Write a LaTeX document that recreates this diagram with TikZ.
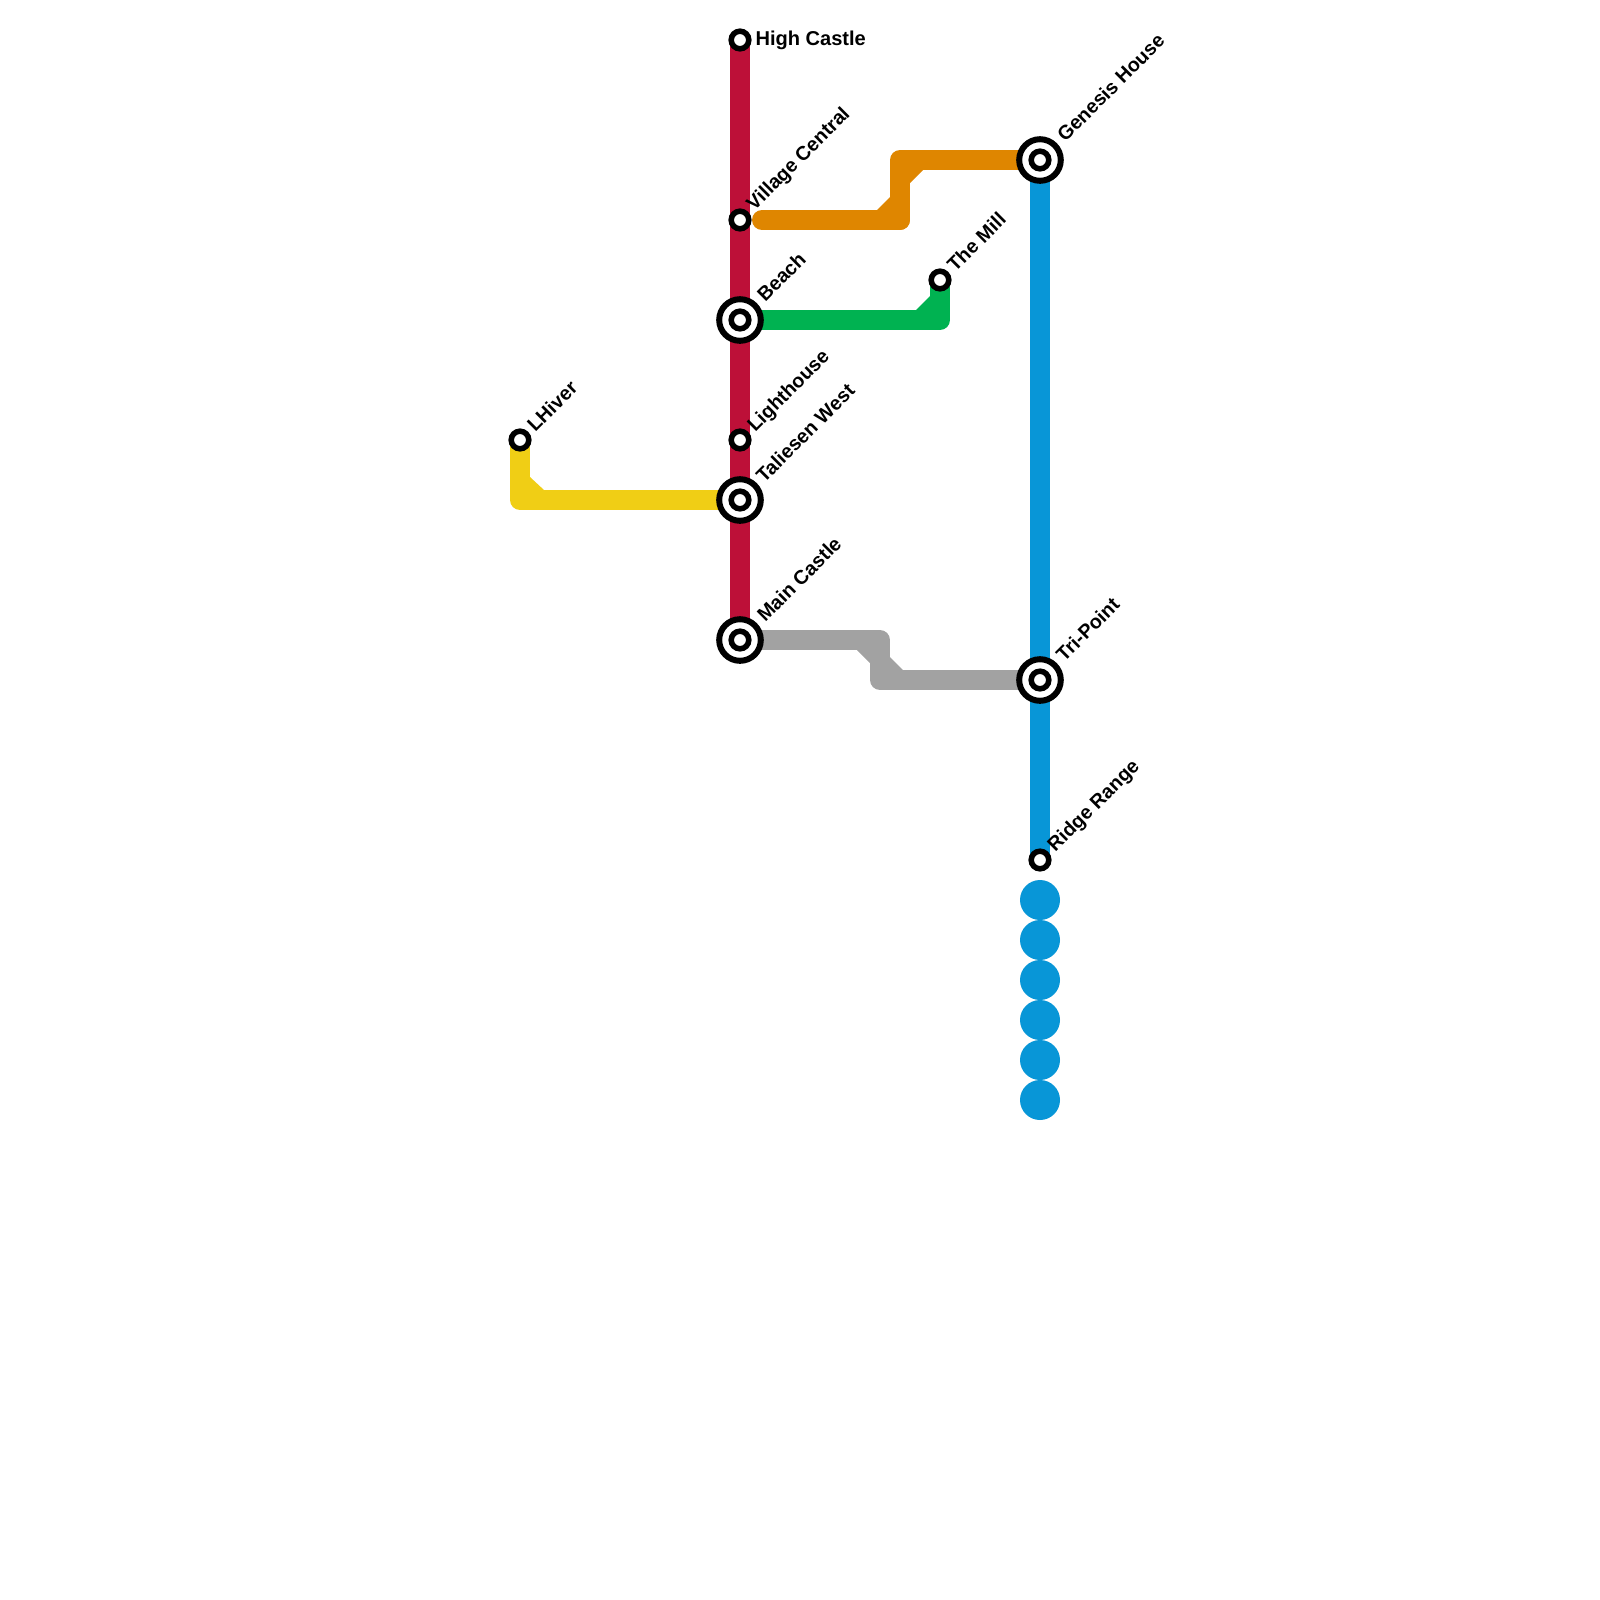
\documentclass[tikz,border=0pt]{standalone}
\usepackage{fontspec}
\setmainfont{Liberation Sans}
\usetikzlibrary{backgrounds}
\definecolor{lineRed}{HTML}{BD1038}
\definecolor{lineOrange}{HTML}{DF8600}
\definecolor{lineGreen}{HTML}{00B251}
\definecolor{lineYellow}{HTML}{F0CE15}
\definecolor{lineBlue}{HTML}{0896D7}
\definecolor{lineGray}{HTML}{A2A2A2}
\tikzset{
  stn/.style={circle,draw=black,fill=white,line width=0.69mm,minimum size=2.2mm,inner sep=0pt},
  bigstn/.style={circle,draw=black,fill=white,line width=0.75mm,minimum size=5.2mm,inner sep=0pt},
  metro/.style={line width=2.5mm,line join=round},
  lbl/.style={font=\fontsize{7.0pt}{8pt}\selectfont\bfseries,inner sep=0pt,anchor=base west},
  tilted/.style={lbl,rotate=45},
  tail/.style={circle,fill=lineBlue,minimum size=5mm,inner sep=0pt},
}
\begin{document}
\begin{tikzpicture}[x=0.125mm,y=-0.125mm]
\useasboundingbox (0,0) rectangle (1600,1600);
% big rings first, the small stations sit on them
\node[bigstn] (beachRing) at (740,320) {};
\node[bigstn] (taliesenRing) at (740,500) {};
\node[bigstn] (mainRing) at (740,640) {};
\node[bigstn] (genesisRing) at (1040,160) {};
\node[bigstn] (triRing) at (1040,680) {};
\node[stn] (high) at (740,40) {};
\node[stn] (village) at (740,220) {};
\node[stn] (beach) at (740,320) {};
\node[stn] (lighthouse) at (740,440) {};
\node[stn] (taliesen) at (740,500) {};
\node[stn] (main) at (740,640) {};
\node[stn] (lhiver) at (520,440) {};
\node[stn] (mill) at (940,280) {};
\node[stn] (genesis) at (1040,160) {};
\node[stn] (tri) at (1040,680) {};
\node[stn] (ridge) at (1040,860) {};
\coordinate (orangeStart) at (762,220);
\coordinate (orangeBend) at (900,190);
\coordinate (grayBend) at (880,660);
\begin{pgfonlayer}{background}
\draw[metro,lineRed] (high.center)--(main.center);
\draw[metro,lineBlue] (genesis.center)--(ridge.center);
\draw[metro,lineYellow] (lhiver.center)|-(taliesen.center);
\fill[lineYellow] (530,477)--(544,490)--(530,490)--cycle;
\draw[metro,lineGreen] (beach.center)-|(mill.center);
\fill[lineGreen] (916,310)--(930,296)--(930,310)--cycle;
\draw[metro,lineOrange,line cap=round] (orangeStart)-|(orangeBend);
\draw[metro,lineOrange] (orangeStart)-|(orangeBend)|-(genesis.center);
\fill[lineOrange] (877,210)--(890,197)--(890,210)--cycle;
\fill[lineOrange] (910,183)--(923,170)--(910,170)--cycle;
\draw[metro,lineGray] (main.center)-|(grayBend)|-(tri.center);
\fill[lineGray] (857,650)--(870,650)--(870,663)--cycle;
\fill[lineGray] (890,657)--(890,670)--(903,670)--cycle;
\end{pgfonlayer}
\foreach \dotY in {900,940,980,1020,1060,1100}
  \node[tail] (tail\dotY) at (1040,\dotY) {};
\node[lbl,font=\fontsize{7.13pt}{8pt}\selectfont\bfseries] (highLabel) at (755,45) {High Castle};
\node[tilted] (villageLabel) at (754,212) {Village Central};
\node[tilted] (beachLabel) at (765,303) {Beach};
\node[tilted] (lighthouseLabel) at (755,433) {Lighthouse};
\node[tilted] (taliesenLabel) at (764,484) {Taliesen West};
\node[tilted] (mainLabel) at (765,623) {Main Castle};
\node[tilted] (lhiverLabel) at (535,433) {LHiver};
\node[tilted] (millLabel) at (955,273) {The Mill};
\node[tilted] (genesisLabel) at (1065,143) {Genesis House};
\node[tilted] (triLabel) at (1064,663) {Tri-Point};
\node[tilted] (ridgeLabel) at (1055,853) {Ridge Range};
\end{tikzpicture}
\end{document}
